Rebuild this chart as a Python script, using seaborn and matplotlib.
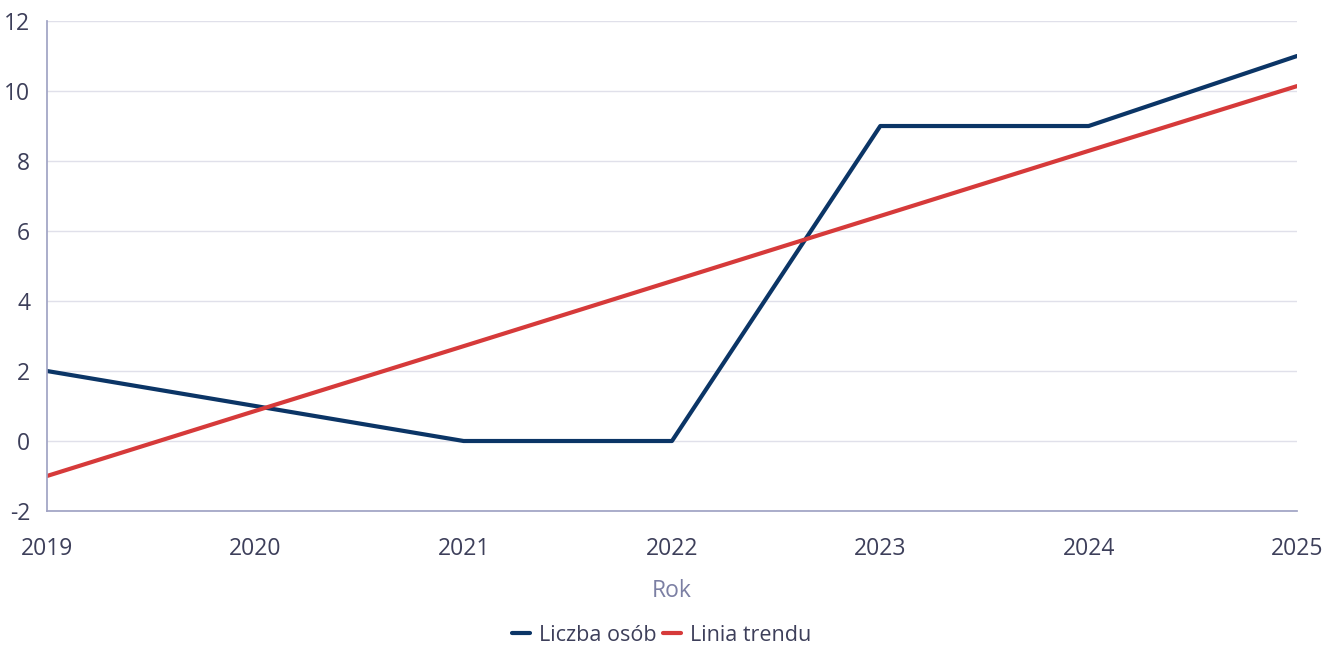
import pandas as pd
import matplotlib.pyplot as plt
import seaborn as sns

# Data
years = [2019, 2020, 2021, 2022, 2023, 2024, 2025]
people = [2, 1, 0, 0, 9, 9, 11]
trend = [-1.0, 0.86, 2.71, 4.57, 6.43, 8.29, 10.14]
series_names = ["Liczba osób", "Linia trendu"]

df = pd.DataFrame({
    "Rok": years * 2,
    "value": people + trend,
    "series": [series_names[0]] * len(years) + [series_names[1]] * len(years),
})

sns.set_theme(style="white")
plt.rcParams["font.family"] = ["Open Sans", "DejaVu Sans"]

text_col = "#3d3f5a"
fs = 16.5
fig = plt.figure(figsize=(13.23, 6.47), dpi=100)
ax = fig.add_axes([0.0355, 0.2102, 0.9448, 0.7573])

sns.lineplot(data=df, x="Rok", y="value", hue="series",
             palette={series_names[0]: "#0b3566", series_names[1]: "#d63a3a"},
             linewidth=3, ax=ax, legend=False)

ax.set_xlim(2019, 2025)
ax.set_ylim(-2, 12)
ax.set_yticks(range(-2, 13, 2))
ax.set_yticklabels([str(v) for v in range(-2, 13, 2)])
ax.set_xticks(years)
ax.grid(axis="y", color="#e0e0ea", linewidth=1)
ax.set_axisbelow(True)
for s in ["top", "right"]:
    ax.spines[s].set_visible(False)
ax.spines["left"].set_color("#a0a3c4")
ax.spines["bottom"].set_color("#a0a3c4")
ax.tick_params(axis="both", length=0, labelsize=fs, colors=text_col)
ax.tick_params(axis="x", pad=19)
ax.tick_params(axis="y", pad=12)
ax.set_ylabel("")
ax.set_xlabel("Rok", fontsize=fs, color="#7b7fa3", labelpad=13)

handles = [plt.Line2D([], [], color="#0b3566", lw=3),
           plt.Line2D([], [], color="#d63a3a", lw=3)]
fig.legend(handles, series_names, loc="center", bbox_to_anchor=(0.5, 0.018),
           ncol=2, frameon=False, fontsize=15.5, handlelength=0.85,
           handletextpad=0.4, columnspacing=0.3, labelcolor=text_col)

fig.savefig("out.png", dpi=100)
